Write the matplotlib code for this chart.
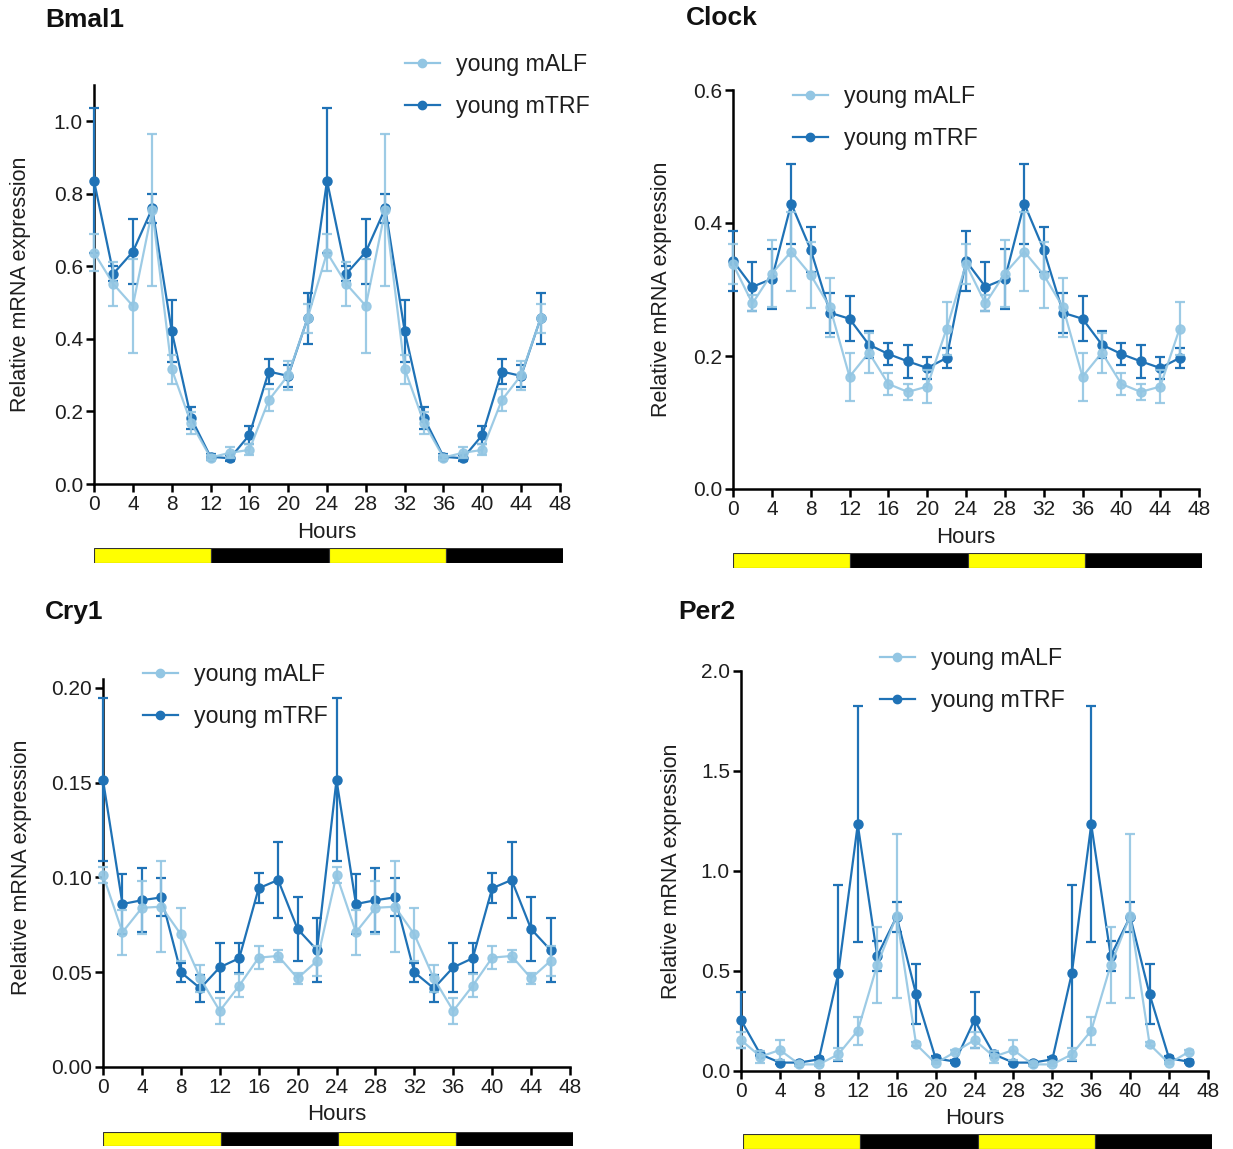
import matplotlib
matplotlib.use("Agg")
import matplotlib.pyplot as plt
from matplotlib.patches import Rectangle
from matplotlib.lines import Line2D

plt.rcParams['font.family'] = ['Liberation Sans', 'DejaVu Sans']

hours = [0, 2, 4, 6, 8, 10, 12, 14, 16, 18, 20, 22,
         24, 26, 28, 30, 32, 34, 36, 38, 40, 42, 44, 46]
xticks = list(range(0, 49, 4))
series_labels = ["young mALF", "young mTRF"]

bmal1_alf = [0.638, 0.551, 0.491, 0.755, 0.317, 0.168, 0.073, 0.086, 0.094, 0.231, 0.300, 0.457,
             0.638, 0.551, 0.491, 0.755, 0.317, 0.168, 0.073, 0.086, 0.094, 0.231, 0.300, 0.457]
bmal1_alf_err = [0.052, 0.06, 0.13, 0.21, 0.04, 0.03, 0.006, 0.015, 0.015, 0.03, 0.04, 0.04,
                 0.052, 0.06, 0.13, 0.21, 0.04, 0.03, 0.006, 0.015, 0.015, 0.03, 0.04, 0.04]
bmal1_trf = [0.836, 0.580, 0.640, 0.760, 0.422, 0.182, 0.075, 0.071, 0.135, 0.310, 0.298, 0.457,
             0.836, 0.580, 0.640, 0.760, 0.422, 0.182, 0.075, 0.071, 0.135, 0.310, 0.298, 0.457]
bmal1_trf_err = [0.20, 0.02, 0.09, 0.04, 0.085, 0.03, 0.008, 0.008, 0.025, 0.035, 0.03, 0.07,
                 0.20, 0.02, 0.09, 0.04, 0.085, 0.03, 0.008, 0.008, 0.025, 0.035, 0.03, 0.07]

clock_alf = [0.338, 0.279, 0.324, 0.357, 0.322, 0.273, 0.169, 0.205, 0.158, 0.146, 0.154, 0.241,
             0.338, 0.279, 0.324, 0.357, 0.322, 0.273, 0.169, 0.205, 0.158, 0.146, 0.154, 0.241]
clock_alf_err = [0.03, 0.012, 0.05, 0.06, 0.05, 0.045, 0.036, 0.03, 0.017, 0.012, 0.025, 0.04,
                 0.03, 0.012, 0.05, 0.06, 0.05, 0.045, 0.036, 0.03, 0.017, 0.012, 0.025, 0.04]
clock_trf = [0.343, 0.304, 0.316, 0.429, 0.360, 0.265, 0.256, 0.217, 0.203, 0.192, 0.182, 0.197,
             0.343, 0.304, 0.316, 0.429, 0.360, 0.265, 0.256, 0.217, 0.203, 0.192, 0.182, 0.197]
clock_trf_err = [0.045, 0.037, 0.045, 0.06, 0.034, 0.03, 0.034, 0.02, 0.016, 0.025, 0.016, 0.015,
                 0.045, 0.037, 0.045, 0.06, 0.034, 0.03, 0.034, 0.02, 0.016, 0.025, 0.016, 0.015]

cry1_alf = [0.1013, 0.0711, 0.084, 0.0846, 0.070, 0.0468, 0.0296, 0.0429, 0.0577, 0.0586, 0.0468, 0.056,
            0.1013, 0.0711, 0.084, 0.0846, 0.070, 0.0468, 0.0296, 0.0429, 0.0577, 0.0586, 0.0468, 0.056]
cry1_alf_err = [0.004, 0.012, 0.014, 0.024, 0.014, 0.007, 0.007, 0.006, 0.006, 0.003, 0.003, 0.008,
                0.004, 0.012, 0.014, 0.024, 0.014, 0.007, 0.007, 0.006, 0.006, 0.003, 0.003, 0.008]
cry1_trf = [0.1515, 0.086, 0.088, 0.0895, 0.050, 0.0415, 0.0526, 0.0574, 0.0943, 0.0987, 0.0728, 0.0617,
            0.1515, 0.086, 0.088, 0.0895, 0.050, 0.0415, 0.0526, 0.0574, 0.0943, 0.0987, 0.0728, 0.0617]
cry1_trf_err = [0.043, 0.016, 0.017, 0.01, 0.005, 0.007, 0.013, 0.008, 0.008, 0.02, 0.017, 0.017,
                0.043, 0.016, 0.017, 0.01, 0.005, 0.007, 0.013, 0.008, 0.008, 0.02, 0.017, 0.017]

per2_alf = [0.155, 0.072, 0.105, 0.033, 0.033, 0.083, 0.202, 0.53, 0.777, 0.133, 0.038, 0.095,
            0.155, 0.072, 0.105, 0.033, 0.033, 0.083, 0.202, 0.53, 0.777, 0.133, 0.038, 0.095]
per2_alf_err = [0.04, 0.03, 0.05, 0.01, 0.01, 0.03, 0.07, 0.19, 0.41, 0.01, 0.005, 0.01,
                0.04, 0.03, 0.05, 0.01, 0.01, 0.03, 0.07, 0.19, 0.41, 0.01, 0.005, 0.01]
per2_trf = [0.255, 0.083, 0.042, 0.042, 0.058, 0.488, 1.233, 0.575, 0.772, 0.383, 0.063, 0.047,
            0.255, 0.083, 0.042, 0.042, 0.058, 0.488, 1.233, 0.575, 0.772, 0.383, 0.063, 0.047]
per2_trf_err = [0.14, 0.01, 0.008, 0.008, 0.01, 0.44, 0.59, 0.075, 0.075, 0.15, 0.01, 0.008,
                0.14, 0.01, 0.008, 0.008, 0.01, 0.44, 0.59, 0.075, 0.075, 0.15, 0.01, 0.008]

light_dark = [(0, 12, 'yellow'), (12, 24, 'black'), (24, 36, 'yellow'), (36, 48, 'black')]

W, H = 1233, 1149
fig = plt.figure(figsize=(W / 100, H / 100), dpi=100)

C_ALF = '#93c6e3'
C_TRF = '#1f72b6'
TXT = '#1e1e1e'


def px_axes(l, r, b, t):
    return fig.add_axes([l / W, 1 - b / H, (r - l) / W, (b - t) / H])


panels = [
    dict(title="Bmal1", tpos=(45, 20), ax=(94, 560, 484, 85), ylim=(0, 1.1),
         yticks=[0.0, 0.2, 0.4, 0.6, 0.8, 1.0], yfmt="%.1f", alf=(bmal1_alf, bmal1_alf_err),
         trf=(bmal1_trf, bmal1_trf_err), ylx=-0.135, yly=0.5, hly=-0.094,
         leg=(405, 53), bar=(94, 563, 563, 548)),
    dict(title="Clock", tpos=(686, 18), ax=(733, 1199, 489, 90), ylim=(0, 0.6),
         yticks=[0.0, 0.2, 0.4, 0.6], yfmt="%.1f", alf=(clock_alf, clock_alf_err),
         trf=(clock_trf, clock_trf_err), ylx=-0.131, yly=0.5, hly=-0.094,
         leg=(793, 85), bar=(733, 1202, 568, 553)),
    dict(title="Cry1", tpos=(45, 612), ax=(103, 570, 1067, 678.5), ylim=(0, 0.205),
         yticks=[0.00, 0.05, 0.10, 0.15, 0.20], yfmt="%.2f", alf=(cry1_alf, cry1_alf_err),
         trf=(cry1_trf, cry1_trf_err), ylx=-0.153, yly=0.515, hly=-0.096,
         leg=(143, 663), bar=(103, 573, 1146, 1132)),
    dict(title="Per2", tpos=(678, 612), ax=(741, 1208, 1071, 671), ylim=(0, 2.0),
         yticks=[0.0, 0.5, 1.0, 1.5, 2.0], yfmt="%.1f", alf=(per2_alf, per2_alf_err),
         trf=(per2_trf, per2_trf_err), ylx=-0.127, yly=0.5, hly=-0.092,
         leg=(880, 647), bar=(743, 1212, 1149, 1134)),
]

for p in panels:
    l, r, b, t = p['ax']
    ax = px_axes(l, r, b, t)
    ax.errorbar(hours, p['trf'][0], yerr=p['trf'][1], color=C_TRF, marker='o', ms=6.5,
                lw=1.6, elinewidth=1.6, capsize=3.8, capthick=1.6, zorder=3, clip_on=False)
    ax.errorbar(hours, p['alf'][0], yerr=p['alf'][1], color=C_ALF, marker='o', ms=6.5,
                lw=1.6, elinewidth=1.6, capsize=3.8, capthick=1.6, alpha=0.9, zorder=4,
                clip_on=False)
    ax.set_xlim(0, 48)
    ax.set_ylim(*p['ylim'])
    ax.set_xticks(xticks)
    ax.set_yticks(p['yticks'])
    ax.set_yticklabels([p['yfmt'] % v for v in p['yticks']])
    for s in ['top', 'right']:
        ax.spines[s].set_visible(False)
    for s in ['left', 'bottom']:
        ax.spines[s].set_linewidth(1.8)
        ax.spines[s].set_color('black')
    ax.tick_params(axis='both', direction='out', length=6, width=1.8, labelsize=15,
                   pad=2, colors='black', labelcolor=TXT)
    ax.set_xlabel("Hours", fontsize=16, color=TXT)
    ax.xaxis.set_label_coords(0.5, p['hly'])
    ax.set_ylabel("Relative mRNA expression", fontsize=15.5, color=TXT)
    ax.yaxis.set_label_coords(p['ylx'], p['yly'])
    handles = [Line2D([], [], color=C_ALF, marker='o', ms=6, lw=1.6),
               Line2D([], [], color=C_TRF, marker='o', ms=6, lw=1.6)]
    lx, ly = p['leg']
    ax.legend(handles, series_labels, loc='upper left',
              bbox_to_anchor=(lx / W, 1 - ly / H), bbox_transform=fig.transFigure,
              frameon=False, fontsize=16.7, handlelength=1.5, handletextpad=0.7,
              labelspacing=0.84, borderpad=0, borderaxespad=0, labelcolor=TXT)
    fig.text(p['tpos'][0] / W, 1 - p['tpos'][1] / H, p['title'], fontsize=19,
             fontweight='bold', va='center', ha='left', color='#111111')

    bl, br, bb, bt = p['bar']
    bax = px_axes(bl, br, bb, bt)
    bax.set_xlim(0, 48)
    bax.set_ylim(0, 1)
    for x0, x1, col in light_dark:
        bax.add_patch(Rectangle((x0, 0), x1 - x0, 1, facecolor=col, edgecolor='#333333',
                                lw=0.8))
    bax.axis('off')

fig.savefig("out.png", dpi=100)
